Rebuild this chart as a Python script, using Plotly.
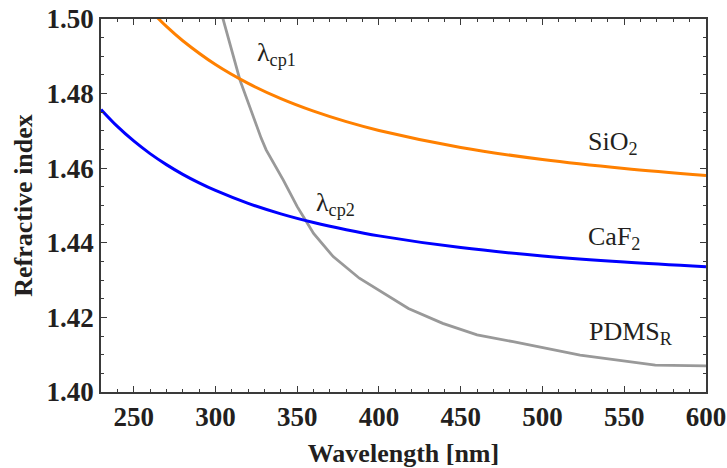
import plotly.graph_objects as go

# Fused silica (SiO2) refractive index vs wavelength
wl_sio2 = [260, 270, 280, 300, 320, 340, 360, 380, 400, 450, 500, 550, 600]
n_sio2 = [1.50239, 1.49800, 1.49417, 1.48779, 1.48274, 1.47865, 1.47529,
          1.47248, 1.47012, 1.46556, 1.46233, 1.45992, 1.45804]

# Calcium fluoride (CaF2)
wl_caf2 = [230, 240, 250, 260, 270, 280, 290, 300, 320, 340, 360, 380, 400,
           450, 500, 550, 600]
n_caf2 = [1.47575, 1.47120, 1.46730, 1.46391, 1.46096, 1.45836, 1.45607,
          1.45403, 1.45056, 1.44775, 1.44543, 1.44350, 1.44186, 1.43871,
          1.43648, 1.43483, 1.43357]

# Replica PDMS (measured points)
wl_pdms = [298, 305, 315, 328, 331, 341.5, 350, 355, 360, 372, 388, 418,
           439, 460, 482, 523, 569, 600]
n_pdms = [1.5105, 1.4997, 1.4836, 1.4680, 1.4649, 1.4568, 1.4497, 1.4461,
          1.4425, 1.4363, 1.4305, 1.4224, 1.4184, 1.4153, 1.4135, 1.4099,
          1.4072, 1.4070]

x_ticks = [250, 300, 350, 400, 450, 500, 550, 600]
y_ticks = [1.40, 1.42, 1.44, 1.46, 1.48, 1.50]
y_tick_text = ["1.40", "1.42", "1.44", "1.46", "1.48", "1.50"]

SERIF = "Liberation Serif, Times New Roman, serif"
INK = "#231f20"
AXIS = "#3a3a3a"

fig = go.Figure()
fig.add_trace(go.Scatter(x=wl_pdms, y=n_pdms, mode="lines",
                         line=dict(color="#999999", width=2.8),
                         name="PDMS_R"))
fig.add_trace(go.Scatter(x=wl_sio2, y=n_sio2, mode="lines",
                         line=dict(color="#ff8000", width=3, shape="spline"),
                         name="SiO2"))
fig.add_trace(go.Scatter(x=wl_caf2, y=n_caf2, mode="lines",
                         line=dict(color="#0000ff", width=3, shape="spline"),
                         name="CaF2"))

label_font = dict(family=SERIF, size=26, color=INK)
labels = [
    ("λ<sub>cp1</sub>", 324.0, 1.4905),
    ("λ<sub>cp2</sub>", 360.5, 1.4505),
    ("SiO<sub>2</sub>", 526.5, 1.4668),
    ("CaF<sub>2</sub>", 526.5, 1.4412),
    ("PDMS<sub>R</sub>", 527.0, 1.4158),
]
for text, lx, ly in labels:
    fig.add_annotation(x=lx, y=ly, xref="x", yref="y", text=text,
                       showarrow=False, xanchor="left", yanchor="middle",
                       font=label_font)

axis_common = dict(
    showline=True, linecolor=AXIS, linewidth=1.5, mirror="ticks",
    ticks="inside", ticklen=6, tickwidth=1.3, tickcolor=AXIS,
    showgrid=False, zeroline=False, automargin=False,
    tickfont=dict(family=SERIF, size=27, color=INK, weight="bold"),
    title_font=dict(family=SERIF, size=26, color=INK, weight="bold"),
)

fig.update_xaxes(range=[230, 600], tickvals=x_ticks,
                 minor=dict(ticks="inside", ticklen=3.5, tickwidth=1.1,
                            tickcolor=AXIS, dtick=10, tick0=230),
                 title_text="Wavelength [nm]", title_standoff=14,
                 **axis_common)
fig.update_yaxes(range=[1.40, 1.50], tickvals=y_ticks, ticktext=y_tick_text,
                 minor=dict(ticks="inside", ticklen=3.5, tickwidth=1.1,
                            tickcolor=AXIS, dtick=0.005, tick0=1.40),
                 title_text="Refractive index", title_standoff=6,
                 **axis_common)

fig.update_layout(
    width=727, height=468,
    margin=dict(l=101, r=21, t=19, b=76),
    plot_bgcolor="white", paper_bgcolor="white",
    showlegend=False,
)

fig.write_html("out.html")
